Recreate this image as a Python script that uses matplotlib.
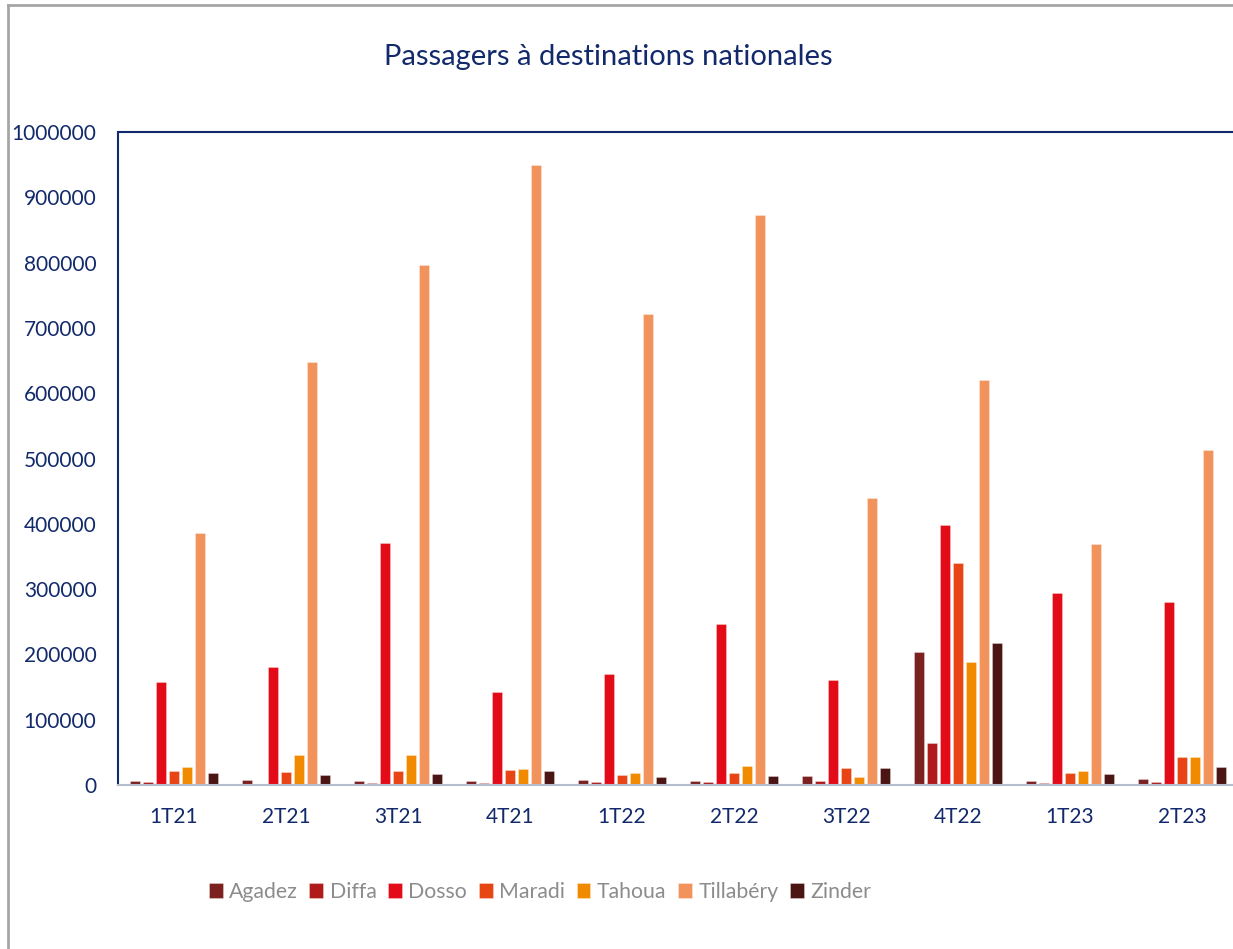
import matplotlib.pyplot as plt
import numpy as np
from matplotlib.lines import Line2D

# Données
trimestres = ["1T21", "2T21", "3T21", "4T21", "1T22", "2T22", "3T22", "4T22", "1T23", "2T23"]
agadez    = [6500, 7000, 6000, 5500, 7000, 6000, 13800, 204000, 6000, 8700]
diffa     = [4000, 2000, 3000, 3000, 4000, 4000, 6000, 64000, 3500, 5000]
dosso     = [157000, 180000, 370000, 142000, 170000, 246000, 161000, 398000, 294000, 280000]
maradi    = [21400, 19500, 21500, 22500, 16000, 18000, 26500, 340000, 19000, 43000]
tahoua    = [27000, 46000, 46500, 24500, 18500, 29000, 12300, 189000, 21500, 43000]
tillabery = [386000, 648000, 796000, 949000, 722000, 873000, 440000, 620000, 369000, 513000]
zinder    = [18400, 15000, 17000, 21000, 12700, 13800, 26500, 217000, 17500, 27500]

series = [
    ("Agadez", agadez, "#7B2220"),
    ("Diffa", diffa, "#B01A1A"),
    ("Dosso", dosso, "#E30B17"),
    ("Maradi", maradi, "#E84515"),
    ("Tahoua", tahoua, "#F28A00"),
    ("Tillabéry", tillabery, "#F2935C"),
    ("Zinder", zinder, "#4A1512"),
]

plt.rcParams['font.family'] = ['Lato', 'DejaVu Sans']
navy = "#12296B"

W, H = 1233, 949
fig = plt.figure(figsize=(W / 100, H / 100), dpi=100)

# cadre extérieur (gauche + haut)
fig.add_artist(Line2D([8 / W, 8 / W], [0, 1 - 5 / H], color="#A6A6A6", lw=2))
fig.add_artist(Line2D([8 / W, 1], [1 - 5 / H, 1 - 5 / H], color="#A6A6A6", lw=2))

left, right, top, bottom = 118, 1238, 132, 785
ax = fig.add_axes([left / W, 1 - bottom / H, (right - left) / W, (bottom - top) / H])

x = np.arange(len(trimestres))
step = 13 / 112
width = 10.5 / 112
for i, (name, vals, col) in enumerate(series):
    ax.bar(x + (i - 3) * step, vals, width, color=col, label=name,
           edgecolor=(1, 1, 1, 0.35), linewidth=0.6)

ax.set_xlim(-0.5, len(trimestres) - 0.5)
ax.set_ylim(0, 1000000)
ax.set_yticks(np.arange(0, 1000001, 100000))
ax.set_yticklabels([f"{v}" for v in range(0, 1000001, 100000)])
ax.set_xticks(x)
ax.set_xticklabels(trimestres)
ax.tick_params(axis="both", length=0, labelsize=15, labelcolor=navy)
ax.tick_params(axis="y", pad=15.5)
ax.tick_params(axis="x", pad=15.5)

for s in ["left", "top"]:
    ax.spines[s].set_color(navy)
    ax.spines[s].set_linewidth(1.5)
ax.spines["right"].set_visible(False)
ax.spines["bottom"].set_color("#B4BDCC")
ax.spines["bottom"].set_linewidth(1.5)

fig.text(608 / W, 1 - 57 / H, "Passagers à destinations nationales",
         ha="center", va="center", fontsize=21, color=navy)

handles, labels = ax.get_legend_handles_labels()
fig.legend(handles, labels, loc="center", bbox_to_anchor=(540 / W, 1 - 892 / H),
           ncol=7, frameon=False, fontsize=15.3, labelcolor="#8C8C8C",
           handlelength=0.65, handleheight=0.65, handletextpad=0.3, columnspacing=0.55)

fig.savefig("out.png", dpi=100)
